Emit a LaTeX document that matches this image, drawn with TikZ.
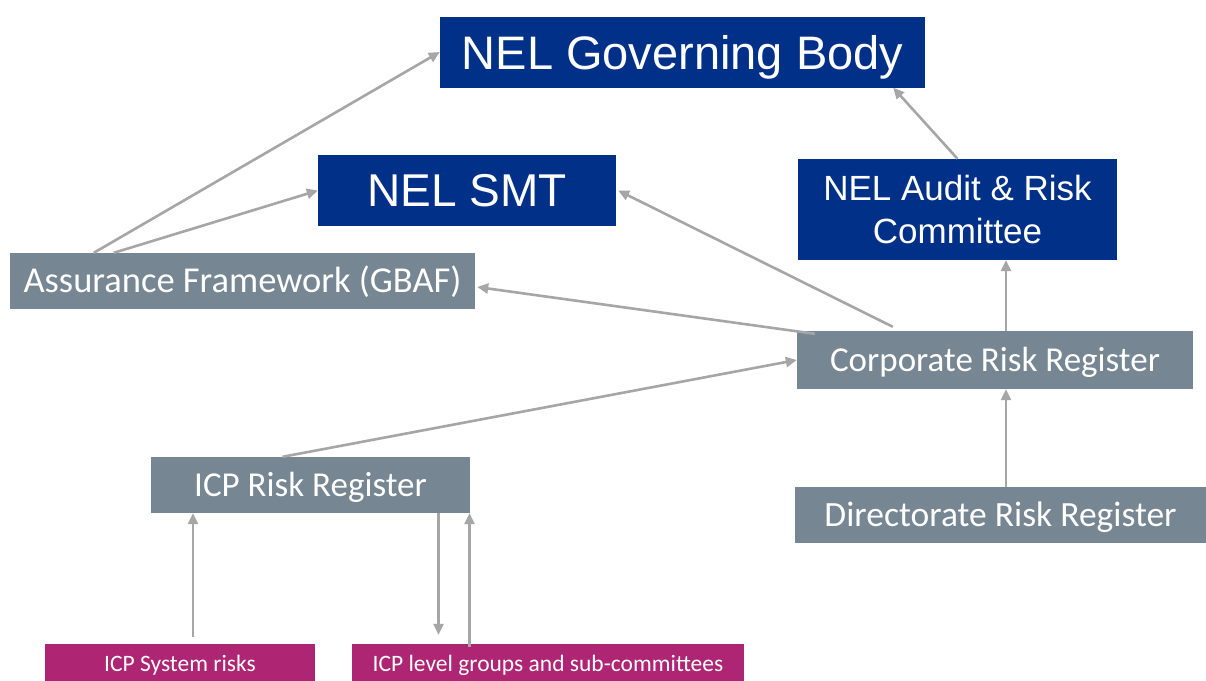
\documentclass[tikz,border=0pt]{standalone}
\usepackage{fontspec}
\newfontfamily\arialfont{Liberation Sans}
\newfontfamily\calibrifont{Carlito}
\usetikzlibrary{arrows.meta}
\definecolor{navy}{HTML}{003087}
\definecolor{slate}{HTML}{768692}
\definecolor{berry}{HTML}{AE2573}
\definecolor{linkgrey}{HTML}{A6A6A6}
\begin{document}
\begin{tikzpicture}[x=1pt,y=-1pt,
  box/.style={rectangle, inner sep=0pt, text=white, anchor=center},
  bluebox/.style={box, fill=navy, font=\arialfont},
  greybox/.style={box, fill=slate, text height=22.5pt, text depth=0pt,
    font=\calibrifont\fontsize{35}{42}\selectfont},
  pinkbox/.style={box, fill=berry, font=\calibrifont\fontsize{23.5}{28}\selectfont},
  arr/.style={draw=linkgrey, line width=2.6pt, -{Triangle[length=11pt,width=10pt]}}]
\useasboundingbox (0,0) rectangle (1206,680);
\fill[white] (0,0) rectangle (1206,680);

% boxes
\node[bluebox, minimum width=485, minimum height=71, text height=34pt, text depth=0pt,
  font=\arialfont\fontsize{47}{56}\selectfont]
  (gov) at (682.5,52) {NEL Governing Body};
\node[bluebox, minimum width=298, minimum height=71, font=\arialfont\fontsize{46}{55}\selectfont]
  (smt) at (467,190.5) {NEL SMT};
\node[bluebox, minimum width=319, minimum height=101, align=center, font=\arialfont\fontsize{35}{43}\selectfont]
  (aud) at (957.5,209.5) {NEL Audit \& Risk\\Committee};
\node[greybox, minimum width=465, minimum height=56, font=\calibrifont\fontsize{36.5}{42}\selectfont,
  text height=23.5pt]
  (gbaf) at (242.5,281) {Assurance Framework (GBAF)};
\node[greybox, minimum width=396, minimum height=58] (corp) at (995,360) {Corporate Risk Register};
\node[greybox, minimum width=319, minimum height=56] (icp) at (310.5,485) {ICP Risk Register};
\node[greybox, minimum width=411, minimum height=56, font=\calibrifont\fontsize{35.5}{42}\selectfont]
  (dir) at (1000.5,515) {Directorate Risk Register};
\node[pinkbox, minimum width=270, minimum height=42] (sys) at (180,665) {ICP System risks};
\node[pinkbox, minimum width=392, minimum height=42] (lvl) at (548,665) {ICP level groups and sub-committees};

% reporting lines
\draw[arr] ([xshift=84]gbaf.north west) -- (gov.west);
\draw[arr] ([xshift=104]gbaf.north west) -- (smt.west);
\draw[arr] ([xshift=96,yshift=4]corp.north west) -- ([xshift=2]smt.east);
\draw[arr] ([xshift=18,yshift=-3]corp.north west) -- ([xshift=2,yshift=-6]gbaf.east);
\draw[arr] ([xshift=-28]icp.north) -- (corp.west);
\draw[arr] (aud.north) -- ([xshift=-32]gov.south east);
\draw[arr] ([xshift=11]corp.north) -- ([xshift=11]corp.north |- aud.south);
\draw[arr] ([xshift=5.5]dir.north) -- ([xshift=5.5]dir.north |- corp.south);
\draw[arr] ([xshift=13,yshift=7]sys.north) -- ([xshift=13]sys.north |- icp.south);
\draw[arr] ([xshift=128]icp.south) -- ([xshift=128,yshift=9]icp.south |- lvl.north);
\draw[arr] ([xshift=159,yshift=-3]icp.south |- lvl.north) -- ([xshift=159]icp.south);
\end{tikzpicture}
\end{document}
